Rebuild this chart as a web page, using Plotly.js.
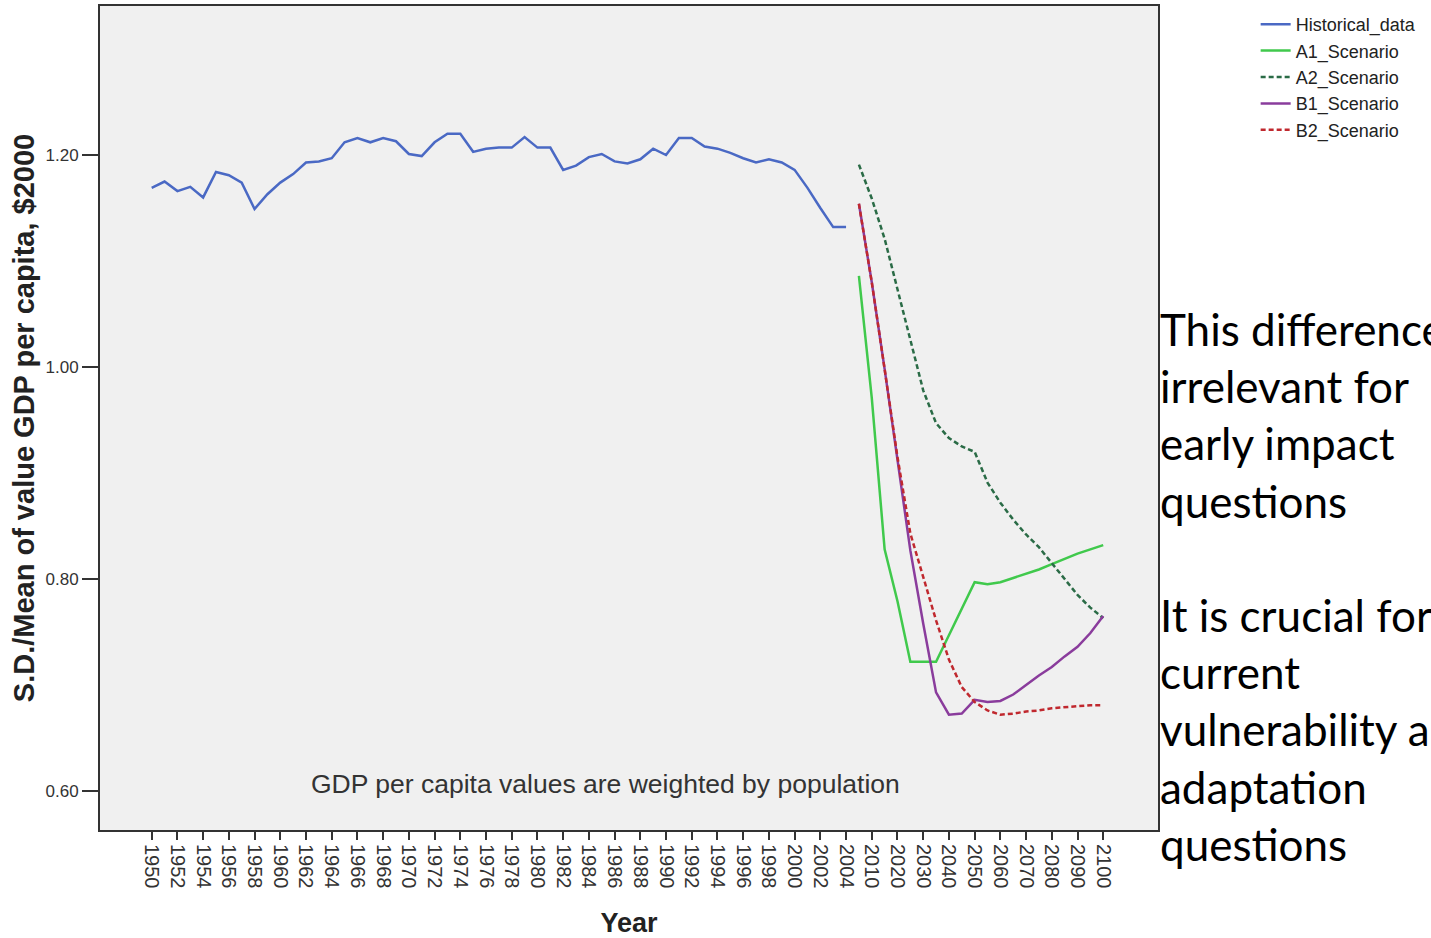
<!DOCTYPE html>
<html>
<head>
<meta charset="utf-8">
<script src="https://cdn.plot.ly/plotly-3.0.1.min.js"></script>
<style>
html,body{margin:0;padding:0;background:#fff;overflow:hidden;}
#chart{width:1431px;height:938px;}
</style>
</head>
<body>
<div id="chart"></div>
<script>
// Category axis: annual 1950-2005, then 5-yearly 2010-2100
const categories = ["1950","1951","1952","1953","1954","1955","1956","1957","1958","1959",
  "1960","1961","1962","1963","1964","1965","1966","1967","1968","1969",
  "1970","1971","1972","1973","1974","1975","1976","1977","1978","1979",
  "1980","1981","1982","1983","1984","1985","1986","1987","1988","1989",
  "1990","1991","1992","1993","1994","1995","1996","1997","1998","1999",
  "2000","2001","2002","2003","2004","2005",
  "2010","2015","2020","2025","2030","2035","2040","2045","2050","2055",
  "2060","2065","2070","2075","2080","2085","2090","2095","2100"];

const tickLabels = ["1950","1952","1954","1956","1958","1960","1962","1964","1966","1968",
  "1970","1972","1974","1976","1978","1980","1982","1984","1986","1988",
  "1990","1992","1994","1996","1998","2000","2002","2004",
  "2010","2020","2030","2040","2050","2060","2070","2080","2090","2100"];

const histYears = ["1950","1951","1952","1953","1954","1955","1956","1957","1958","1959",
  "1960","1961","1962","1963","1964","1965","1966","1967","1968","1969",
  "1970","1971","1972","1973","1974","1975","1976","1977","1978","1979",
  "1980","1981","1982","1983","1984","1985","1986","1987","1988","1989",
  "1990","1991","1992","1993","1994","1995","1996","1997","1998","1999",
  "2000","2001","2002","2003","2004"];

const historical = [1.169,1.175,1.166,1.170,1.160,1.184,1.181,1.174,1.149,1.163,
  1.174,1.182,1.193,1.194,1.197,1.212,1.216,1.212,1.216,1.213,
  1.201,1.199,1.212,1.220,1.220,1.203,1.206,1.207,1.207,1.217,
  1.207,1.207,1.186,1.190,1.198,1.201,1.194,1.192,1.196,1.206,
  1.200,1.216,1.216,1.208,1.206,1.202,1.197,1.193,1.196,1.193,
  1.186,1.169,1.150,1.132,1.132];

const scenYears = ["2005","2010","2015","2020","2025","2030","2035","2040","2045","2050",
  "2055","2060","2065","2070","2075","2080","2085","2090","2095","2100"];

const a1 = [1.086,0.971,0.828,0.779,0.722,0.722,0.722,0.747,0.772,0.797,
  0.795,0.797,0.801,0.805,0.809,0.814,0.819,0.824,0.828,0.832];
const a2 = [1.191,1.159,1.121,1.073,1.025,0.978,0.947,0.933,0.925,0.920,
  0.891,0.872,0.856,0.842,0.830,0.815,0.799,0.785,0.773,0.763];
const b1 = [1.154,1.080,0.998,0.912,0.827,0.758,0.693,0.672,0.673,0.686,
  0.684,0.685,0.691,0.700,0.709,0.717,0.727,0.736,0.749,0.765];
const b2 = [1.154,1.080,0.998,0.915,0.843,0.802,0.761,0.724,0.698,0.684,
  0.676,0.672,0.673,0.675,0.676,0.678,0.679,0.680,0.681,0.681];

const traces = [
  {x: histYears, y: historical, name: "Historical_data", mode: "lines",
   line: {color: "#4a69c4", width: 2.5}},
  {x: scenYears, y: a1, name: "A1_Scenario", mode: "lines",
   line: {color: "#40c94c", width: 2.5}},
  {x: scenYears, y: a2, name: "A2_Scenario", mode: "lines",
   line: {color: "#2a6b46", width: 2.5, dash: "5px,3px"}},
  {x: scenYears, y: b1, name: "B1_Scenario", mode: "lines",
   line: {color: "#8a3c9c", width: 2.5}},
  {x: scenYears, y: b2, name: "B2_Scenario", mode: "lines",
   line: {color: "#c0282e", width: 2.5, dash: "5px,3px"}}
];

const baseFont = "Liberation Sans, Arial, sans-serif";

const layout = {
  width: 1431, height: 938,
  margin: {l: 100, r: 273, t: 6, b: 108},
  paper_bgcolor: "#ffffff",
  plot_bgcolor: "#f0f0f0",
  font: {family: baseFont, color: "#333"},
  showlegend: true,
  legend: {x: 1.0923, xanchor: "left", y: 1.0, yanchor: "top",
    bgcolor: "rgba(0,0,0,0)", font: {size: 18, color: "#222"}, tracegroupgap: 0},
  xaxis: {
    type: "category", categoryorder: "array", categoryarray: categories,
    range: [-4.02, 78.26], autorange: false,
    tickmode: "array", tickvals: tickLabels, ticktext: tickLabels,
    tickangle: 90, tickfont: {size: 20, color: "#333"},
    ticks: "outside", ticklen: 8, tickwidth: 2, tickcolor: "#333",
    showgrid: false, zeroline: false,
    showline: true, mirror: true, linecolor: "#333", linewidth: 2,
    title: {text: "Year", font: {size: 27, color: "#222", family: baseFont, weight: "bold"}, standoff: 28}
  },
  yaxis: {
    range: [0.5632, 1.3406], autorange: false,
    tickmode: "array", tickvals: [0.6, 0.8, 1.0, 1.2], tickformat: ".2f",
    tickfont: {size: 17, color: "#333"},
    ticks: "outside", ticklen: 16, tickwidth: 2, tickcolor: "#333",
    showgrid: false, zeroline: false,
    showline: true, mirror: true, linecolor: "#333", linewidth: 2,
    title: {text: "S.D./Mean of value GDP per capita, $2000", font: {size: 29, color: "#222", family: baseFont, weight: "bold"}, standoff: 2}
  },
  annotations: [
    {text: "GDP per capita values are weighted by population", xref: "paper", yref: "paper",
     x: (605 - 100) / 1058, y: (830 - 784) / 824, xanchor: "center", yanchor: "middle",
     showarrow: false, font: {size: 26.5, color: "#333"}},
    {text: "This difference is<br>irrelevant for<br>early impact<br>questions", xref: "paper", yref: "paper",
     x: (1158 - 100) / 1058, y: (830 - 415) / 824, xanchor: "left", yanchor: "middle", align: "left",
     showarrow: false, font: {size: 44, color: "#000", family: "Lato, sans-serif"}},
    {text: "It is crucial for<br>current<br>vulnerability and<br>adaptation<br>questions", xref: "paper", yref: "paper",
     x: (1158 - 100) / 1058, y: (830 - 729.5) / 824, xanchor: "left", yanchor: "middle", align: "left",
     showarrow: false, font: {size: 44, color: "#000", family: "Lato, sans-serif"}}
  ]
};

Plotly.newPlot("chart", traces, layout, {staticPlot: true, displayModeBar: false});
</script>
</body>
</html>
